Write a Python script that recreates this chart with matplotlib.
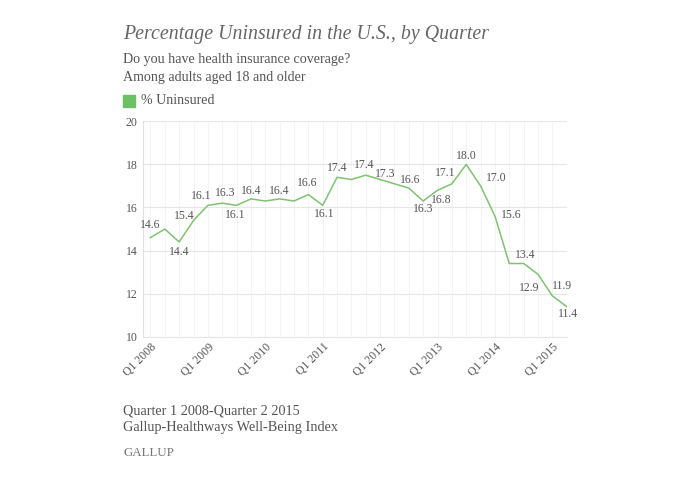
import matplotlib
matplotlib.use("Agg")
import matplotlib.pyplot as plt

plt.rcParams["font.family"] = ["Liberation Serif", "DejaVu Serif"]

# quarterly values, Q1 2008 .. Q2 2015
quarters = ["Q%d %d" % (q, y) for y in range(2008, 2016) for q in range(1, 5)][:30]
uninsured = [14.6, 15.0, 14.4, 15.4, 16.1, 16.2, 16.1, 16.4, 16.3, 16.4,
             16.3, 16.6, 16.1, 17.4, 17.3, 17.5, 17.3, 17.1, 16.9, 16.3,
             16.8, 17.1, 18.0, 17.0, 15.6, 13.4, 13.4, 12.9, 11.9, 11.4]
# point labels as printed on the chart ("" = no label)
point_labels = ["14.6", "", "14.4", "15.4", "16.1", "16.3", "16.1", "16.4", "", "16.4",
                "", "16.6", "16.1", "17.4", "", "17.4", "17.3", "", "16.6", "16.3",
                "16.8", "17.1", "18.0", "17.0", "15.6", "", "13.4", "12.9", "11.9", "11.4"]
# label offsets in points (dx, dy)
label_offsets = [(0, 9), None, (0, -7), (-7, 3), (-5, 7), (2, 7), (-1, -7), (0, 6), None, (0, 6),
                 None, (-1, 8), (1, -6), (0, 7), None, (-1, 7), (4, 4), None, (1, 6), (0, -6),
                 (3, -7), (-5, 8), (0, 6), (11, 6), (12, 1), None, (1, 6), (-6, -10), (7, 7), (1, -5)]
yticks = [10, 12, 14, 16, 18, 20]

text_color = "#555555"
line_color = "#80c272"

fig = plt.figure(figsize=(6.84, 4.79), dpi=100)
ax = fig.add_axes([0.2095, 0.297, 0.619, 0.4497])

x = list(range(len(uninsured)))
ax.plot(x, uninsured, color=line_color, lw=1.1, zorder=3)

for i, (txt, off) in enumerate(zip(point_labels, label_offsets)):
    if txt:
        ax.annotate(txt, (i, uninsured[i]), xytext=off, textcoords="offset points",
                    ha="center", va="center", fontsize=8.5, color=text_color, zorder=4)

ax.set_xlim(-0.5, 29)
ax.set_ylim(10, 20)
ax.set_yticks(yticks)
ax.set_yticklabels([str(v) for v in yticks], fontsize=8.5, color=text_color)
ax.set_xticks(x[::4])
ax.set_xticklabels(quarters[::4], rotation=45, ha="right", va="top",
                   rotation_mode="anchor", fontsize=8.5, color=text_color)
ax.set_xticks(x, minor=True)
ax.tick_params(axis="both", which="both", length=0, pad=4)
ax.tick_params(axis="x", pad=3)

ax.grid(axis="y", color="#e6e6e6", lw=0.8)
ax.grid(axis="x", which="both", color="#f2f2f2", lw=0.6)
ax.set_axisbelow(True)
for side in ["top", "right"]:
    ax.spines[side].set_visible(False)
ax.spines["left"].set_color("#e0e0e0")
ax.spines["bottom"].set_color("#e6e6e6")

fig.text(123 / 684, 1 - 34 / 479, "Percentage Uninsured in the U.S., by Quarter",
         fontsize=14.3, style="italic", color="#666666", va="center")
fig.text(123 / 684, 1 - 60 / 479, "Do you have health insurance coverage?",
         fontsize=10.1, color=text_color, va="center")
fig.text(123 / 684, 1 - 78 / 479, "Among adults aged 18 and older",
         fontsize=10.1, color=text_color, va="center")
fig.patches.append(plt.Rectangle((123 / 684, 1 - 107 / 479), 12 / 684, 12 / 479,
                                 transform=fig.transFigure, color="#6cc164"))
fig.text(141 / 684, 1 - 101 / 479, "% Uninsured", fontsize=10.1, color=text_color, va="center")

fig.text(123 / 684, 1 - 411 / 479, "Quarter 1 2008-Quarter 2 2015",
         fontsize=10.3, color=text_color, va="center")
fig.text(123 / 684, 1 - 428 / 479, "Gallup-Healthways Well-Being Index",
         fontsize=10.3, color=text_color, va="center")
fig.text(123 / 684, 1 - 453 / 479, "GALLUP", fontsize=9.3, color="#777777", va="center")

fig.savefig("out.png", dpi=100)
